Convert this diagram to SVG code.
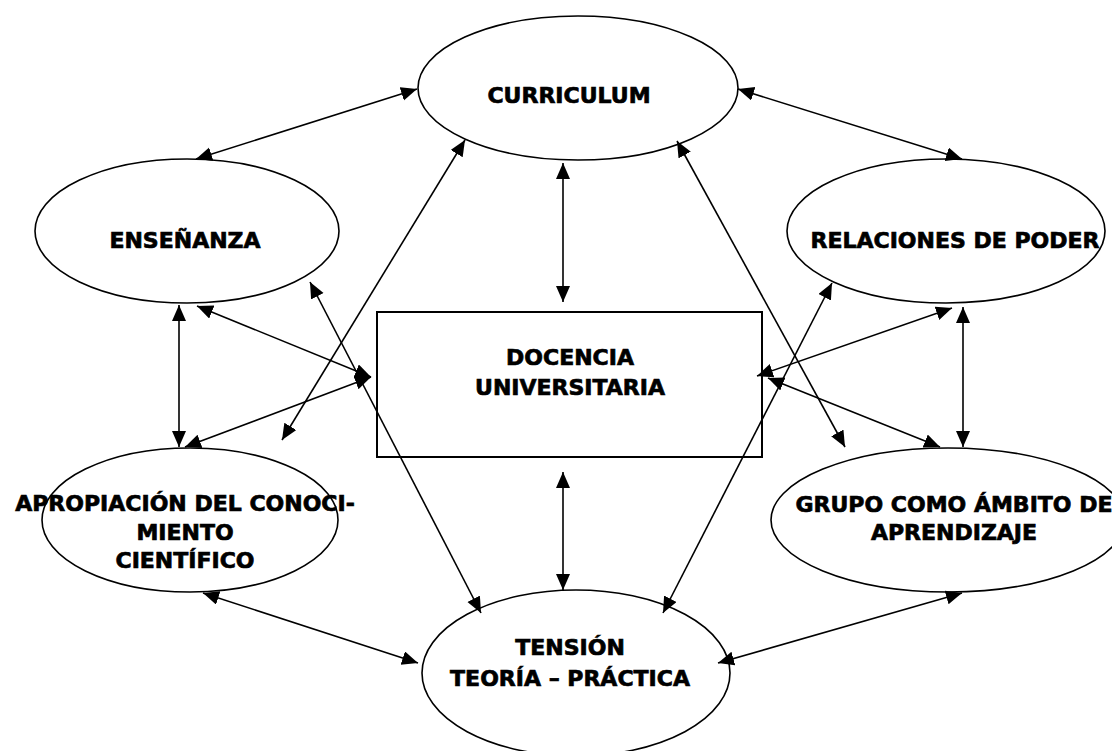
<svg xmlns="http://www.w3.org/2000/svg" width="1112" height="751" viewBox="0 0 1112 751">
<style>
.shape{fill:#fff;stroke:#000;stroke-width:1.6}
.box{fill:#fff;stroke:#000;stroke-width:2}
.lbl{font-family:"DejaVu Sans",Verdana,sans-serif;font-weight:bold;font-size:22px;fill:#000;stroke:#000;stroke-width:0.7;text-anchor:middle}
.conn line{stroke:#000;stroke-width:1.6;marker-start:url(#ah);marker-end:url(#ah)}
</style>
<defs>
<marker id="ah" markerUnits="userSpaceOnUse" markerWidth="17" markerHeight="15" refX="16" refY="7" orient="auto-start-reverse">
<path d="M0,0 L16,7 L0,14 z" fill="#000"/>
</marker>
</defs>
<rect width="1112" height="751" fill="#fff"/>
<g id="curriculum"><ellipse class="shape" cx="578" cy="88" rx="160" ry="72"/><text class="lbl" x="569" y="103">CURRICULUM</text></g>
<g id="ensenanza"><ellipse class="shape" cx="187" cy="231" rx="152" ry="72"/><text class="lbl" x="185" y="248">ENSEÑANZA</text></g>
<g id="relaciones"><ellipse class="shape" cx="946" cy="231" rx="159" ry="72"/><text class="lbl" x="955" y="248">RELACIONES DE PODER</text></g>
<g id="docencia"><rect class="box" x="377" y="312" width="385" height="145"/><text class="lbl" x="570" y="365">DOCENCIA</text><text class="lbl" x="570" y="395">UNIVERSITARIA</text></g>
<g id="apropiacion"><ellipse class="shape" cx="190" cy="520" rx="148" ry="72"/><text class="lbl" x="185" y="511">APROPIACIÓN DEL CONOCI-</text><text class="lbl" x="185" y="540">MIENTO</text><text class="lbl" x="185" y="568">CIENTÍFICO</text></g>
<g id="grupo"><ellipse class="shape" cx="948" cy="520" rx="177" ry="72"/><text class="lbl" x="954" y="512">GRUPO COMO ÁMBITO DE</text><text class="lbl" x="954" y="540">APRENDIZAJE</text></g>
<g id="tension"><ellipse class="shape" cx="576" cy="673" rx="154" ry="83"/><text class="lbl" x="570" y="655">TENSIÓN</text><text class="lbl" x="570" y="686">TEORÍA – PRÁCTICA</text></g>
<g id="connectors" class="conn">
<line x1="417" y1="89" x2="196" y2="159"/>
<line x1="738" y1="89" x2="962" y2="159"/>
<line x1="563" y1="163" x2="563" y2="302"/>
<line x1="465" y1="140" x2="282" y2="440"/>
<line x1="677" y1="141" x2="845" y2="447"/>
<line x1="179" y1="305" x2="179" y2="447"/>
<line x1="197" y1="306" x2="371" y2="377"/>
<line x1="185" y1="447" x2="371" y2="377"/>
<line x1="310" y1="282" x2="481" y2="613"/>
<line x1="832" y1="283" x2="663" y2="613"/>
<line x1="952" y1="308" x2="757" y2="376"/>
<line x1="963" y1="307" x2="963" y2="447"/>
<line x1="768" y1="378" x2="940" y2="447"/>
<line x1="563" y1="472" x2="563" y2="590"/>
<line x1="203" y1="593" x2="418" y2="663"/>
<line x1="962" y1="593" x2="718" y2="663"/>
</g>
</svg>
